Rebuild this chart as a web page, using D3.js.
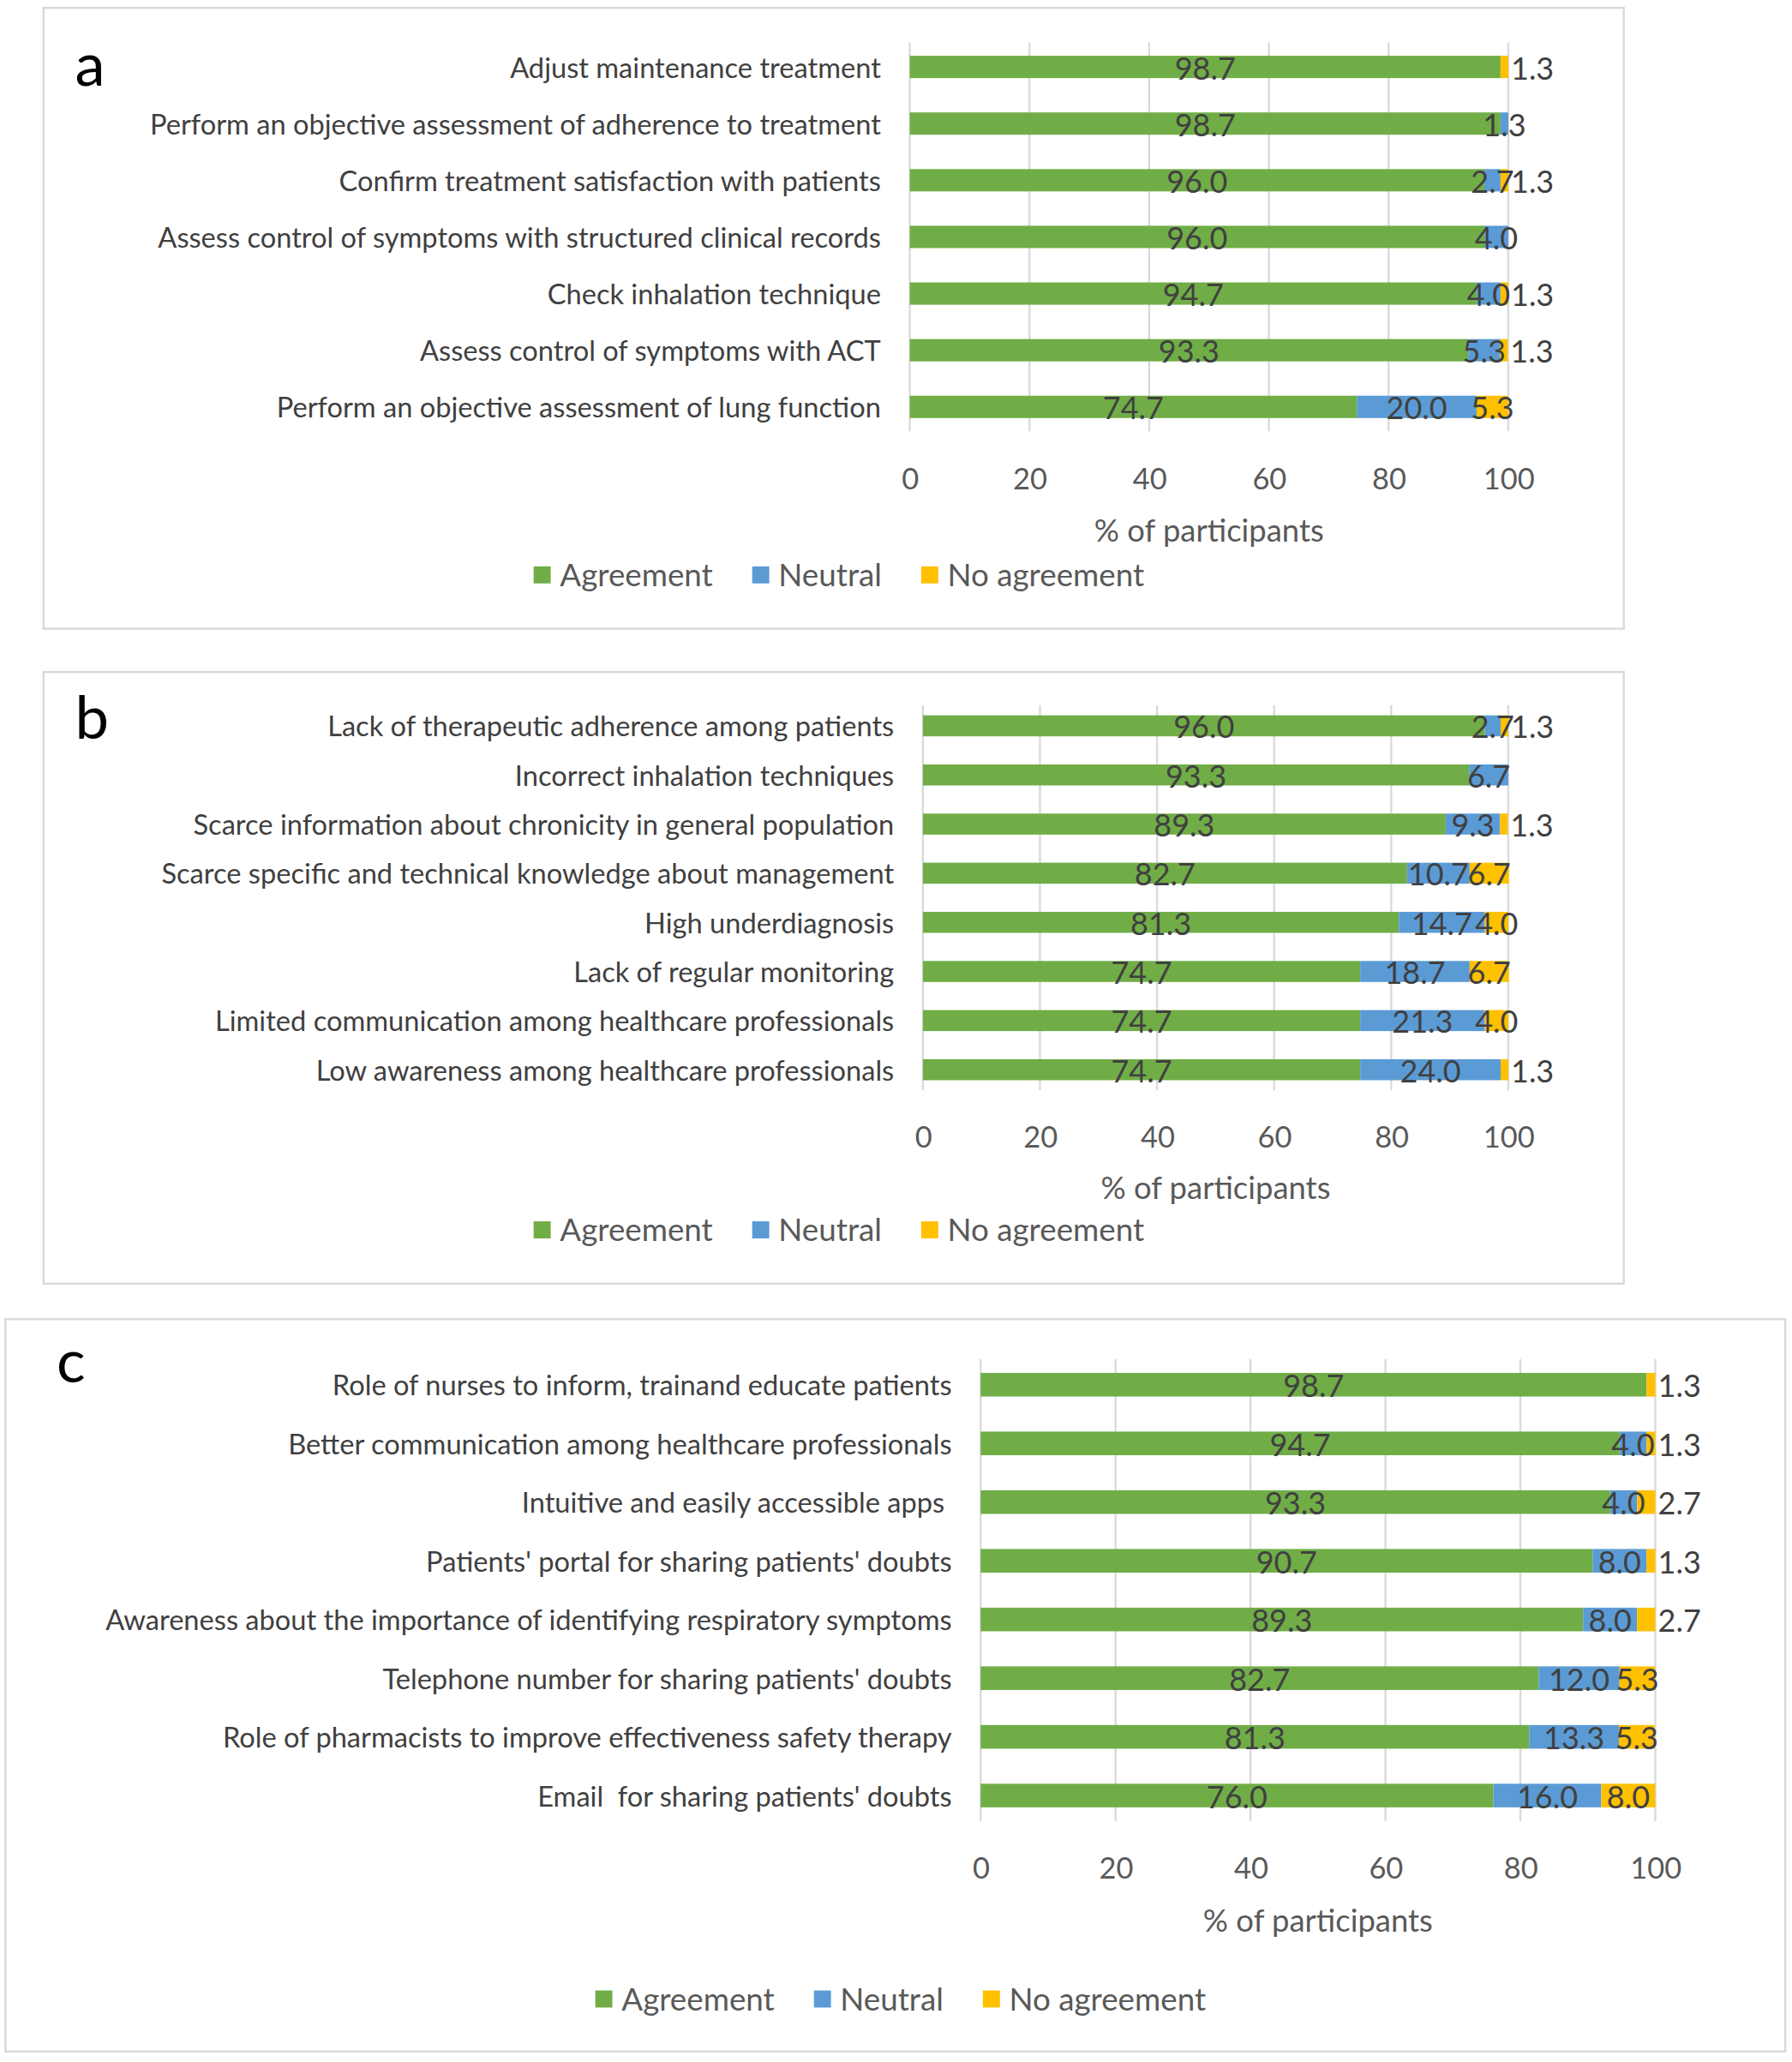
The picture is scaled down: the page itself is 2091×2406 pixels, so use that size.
<!DOCTYPE html>
<html>
<head>
<meta charset="utf-8">
<script src="https://cdn.jsdelivr.net/npm/d3@7"></script>
<style>
html,body{margin:0;padding:0;background:#fff;}
svg{display:block;}
text{font-family:Lato,"Open Sans",sans-serif;white-space:pre;}
</style>
</head>
<body>
<svg id="chart"></svg>
<script>
// ---------- DATA ----------
const seriesNames = ["Agreement", "Neutral", "No agreement"];
const tickValues = [0, 20, 40, 60, 80, 100];
const axisTitle = "% of participants";

const aCategories = [
  "Adjust maintenance treatment",
  "Perform an objective assessment of adherence to treatment",
  "Confirm treatment satisfaction with patients",
  "Assess control of symptoms with structured clinical records",
  "Check inhalation technique",
  "Assess control of symptoms with ACT",
  "Perform an objective assessment of lung function"
];
const aAgreement   = [98.7, 98.7, 96.0, 96.0, 94.7, 93.3, 74.7];
const aNeutral     = [0,    1.3,  2.7,  4.0,  4.0,  5.3,  20.0];
const aNoAgreement = [1.3,  0,    1.3,  0,    1.3,  1.3,  5.3];

const bCategories = [
  "Lack of therapeutic adherence among patients",
  "Incorrect inhalation techniques",
  "Scarce information about chronicity in general population",
  "Scarce specific and technical knowledge about management",
  "High underdiagnosis",
  "Lack of regular monitoring",
  "Limited communication among healthcare professionals",
  "Low awareness among healthcare professionals"
];
const bAgreement   = [96.0, 93.3, 89.3, 82.7, 81.3, 74.7, 74.7, 74.7];
const bNeutral     = [2.7,  6.7,  9.3,  10.7, 14.7, 18.7, 21.3, 24.0];
const bNoAgreement = [1.3,  0,    1.3,  6.7,  4.0,  6.7,  4.0,  1.3];

const cCategories = [
  "Role of nurses to inform, trainand educate patients",
  "Better communication among healthcare professionals",
  "Intuitive and easily accessible apps ",
  "Patients' portal for sharing patients' doubts",
  "Awareness about the importance of identifying respiratory symptoms",
  "Telephone number for sharing patients' doubts",
  "Role of pharmacists to improve effectiveness safety therapy",
  "Email  for sharing patients' doubts"
];
const cAgreement   = [98.7, 94.7, 93.3, 90.7, 89.3, 82.7, 81.3, 76.0];
const cNeutral     = [0,    4.0,  4.0,  8.0,  8.0,  12.0, 13.3, 16.0];
const cNoAgreement = [1.3,  1.3,  2.7,  1.3,  2.7,  5.3,  5.3,  8.0];

// ---------- STYLE ----------
const colors = ["#70AD47", "#5B9BD5", "#FFC000"];
const gridColor = "#d9d9d9";
const textDark = "#404040";
const textMid = "#595959";

// ---------- LAYOUT (in 1365 x 1571 design units) ----------
const W = 2091, H = 2406, VW = 1365, VH = 1571;
const panels = [
  { letter: "a", cats: aCategories, vals: [aAgreement, aNeutral, aNoAgreement],
    box: [33, 6, 1204, 473], letterPos: [57, 65],
    xr: [693, 1149], yc: [51, 310], barH: 17,
    tickY: 365, titleY: 404, legendY: 438 },
  { letter: "b", cats: bCategories, vals: [bAgreement, bNeutral, bNoAgreement],
    box: [33, 512, 1204, 466], letterPos: [57, 563],
    xr: [703, 1149], yc: [553, 815], barH: 16,
    tickY: 866, titleY: 905, legendY: 937 },
  { letter: "c", cats: cCategories, vals: [cAgreement, cNeutral, cNoAgreement],
    box: [4, 1005, 1356, 558], letterPos: [43, 1053],
    xr: [747, 1261], yc: [1055, 1368], barH: 18,
    tickY: 1423, titleY: 1463, legendY: 1523 }
];

const svg = d3.select("#chart")
  .attr("width", W).attr("height", H)
  .attr("viewBox", `0 0 ${VW} ${VH}`);
svg.append("rect").attr("width", VW).attr("height", VH).attr("fill", "#fff");

const fmt = d3.format(".1f");

panels.forEach(p => {
  const g = svg.append("g");
  const [bx, by, bw, bh] = p.box;
  g.append("rect").attr("x", bx).attr("y", by).attr("width", bw).attr("height", bh)
    .attr("fill", "none").attr("stroke", gridColor).attr("stroke-width", 1.6);

  g.append("text").attr("x", p.letterPos[0]).attr("y", p.letterPos[1])
    .attr("font-family", "'Liberation Sans', Arial, sans-serif")
    .attr("font-size", 46).attr("fill", "#000").text(p.letter);

  const n = p.cats.length;
  const step = (p.yc[1] - p.yc[0]) / (n - 1);
  const pin = 1 - p.barH / step;
  const y = d3.scaleBand().domain(p.cats)
    .range([p.yc[0] - step / 2, p.yc[1] + step / 2])
    .paddingInner(pin).paddingOuter(pin / 2);
  const x = d3.scaleLinear().domain([0, 100]).range(p.xr);

  // gridlines
  const gy0 = y.range()[0] + 3, gy1 = y.range()[1] - 3;
  g.append("g").selectAll("line").data(tickValues).join("line")
    .attr("x1", d => x(d)).attr("x2", d => x(d))
    .attr("y1", gy0).attr("y2", gy1)
    .attr("stroke", gridColor).attr("stroke-width", 1.5);

  // stacked data
  const rows = p.cats.map((c, i) => {
    const o = { cat: c };
    seriesNames.forEach((s, k) => o[s] = p.vals[k][i]);
    return o;
  });
  const stack = d3.stack().keys(seriesNames)(rows);

  stack.forEach((layer, k) => {
    g.append("g").selectAll("rect").data(layer).join("rect")
      .attr("x", d => x(d[0]))
      .attr("y", d => y(d.data.cat))
      .attr("width", d => Math.max(0, x(d[1]) - x(d[0])))
      .attr("height", y.bandwidth())
      .attr("fill", colors[k]);
  });

  // data labels
  stack.forEach((layer, k) => {
    g.append("g").selectAll("text").data(layer.filter(d => d[1] - d[0] > 0)).join("text")
      .each(function (d) {
        const v = d[1] - d[0];
        const outside = (k === seriesNames.length - 1 && v < 3);
        d3.select(this)
          .attr("x", outside ? x(d[1]) + 2 : x((d[0] + d[1]) / 2))
          .attr("text-anchor", outside ? "start" : "middle");
      })
      .attr("y", d => y(d.data.cat) + y.bandwidth() / 2 + 1)
      .attr("dy", "0.36em")
      .attr("font-size", 23.5)
      .attr("fill", textDark)
      .text(d => fmt(d[1] - d[0]));
  });

  // category labels
  g.append("g").selectAll("text").data(p.cats).join("text")
    .attr("x", p.xr[0] - 22)
    .attr("y", d => y(d) + y.bandwidth() / 2 + 0.5)
    .attr("dy", "0.36em")
    .attr("text-anchor", "end")
    .attr("font-size", 21.3)
    .attr("fill", textDark)
    .text(d => d);

  // x axis tick labels
  const ax = g.append("g").attr("transform", `translate(0,${p.tickY})`)
    .call(d3.axisBottom(x).tickValues(tickValues).tickSize(0).tickFormat(d3.format("d")));
  ax.select(".domain").remove();
  ax.selectAll("text").attr("y", 0).attr("dy", "0.36em")
    .attr("font-size", 22.5).attr("fill", textMid)
    .attr("font-family", "Lato, 'Open Sans', sans-serif");

  // axis title
  g.append("text").attr("x", (p.xr[0] + p.xr[1]) / 2).attr("y", p.titleY)
    .attr("dy", "0.36em").attr("text-anchor", "middle")
    .attr("font-size", 23.8).attr("fill", textMid).text(axisTitle);

  // legend
  const lg = g.append("g");
  const sq = 13, gap1 = 7, gap2 = 30;
  const items = seriesNames.map((s, k) => {
    const it = lg.append("g");
    it.append("rect").attr("width", sq).attr("height", sq)
      .attr("y", p.legendY - sq / 2).attr("fill", colors[k]);
    const t = it.append("text").attr("x", sq + gap1).attr("y", p.legendY)
      .attr("dy", "0.36em").attr("font-size", 24).attr("fill", textMid).text(s);
    return { it, w: sq + gap1 + t.node().getComputedTextLength() };
  });
  const total = d3.sum(items, d => d.w) + gap2 * (items.length - 1);
  let cx = bx + bw / 2 + 4 - total / 2;
  items.forEach(d => {
    d.it.attr("transform", `translate(${cx},0)`);
    cx += d.w + gap2;
  });
});
</script>
</body>
</html>
